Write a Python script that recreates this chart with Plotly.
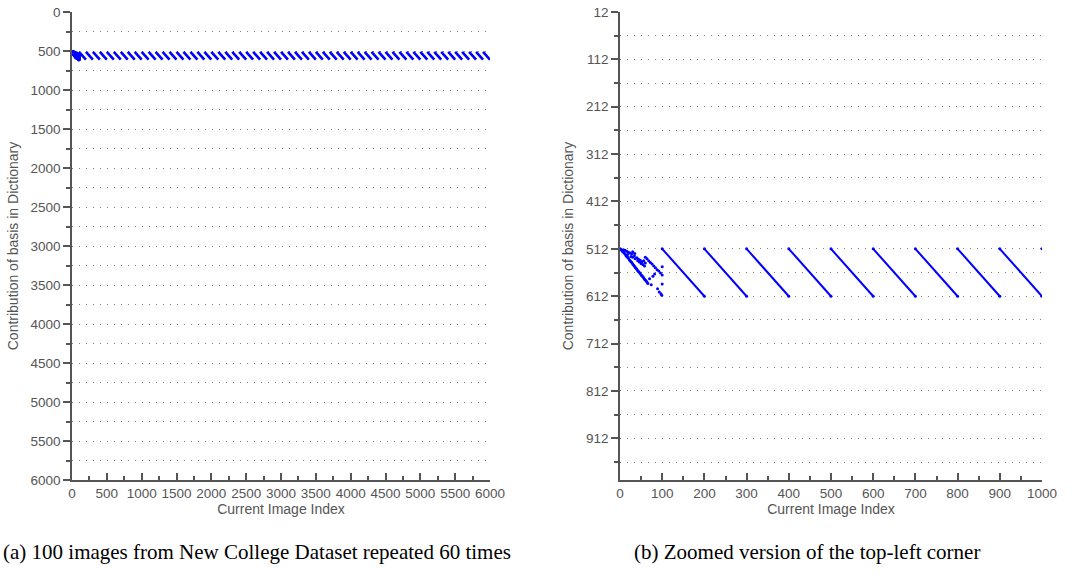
import plotly.graph_objects as go

# ---------------- data ----------------
# first pass through the 100 images (scattered contributions)
first_cycle_x = [0, 2, 4, 6, 8, 10, 12, 14, 16, 18, 20, 22, 24, 26, 28, 30, 32, 34, 36, 38, 40,
                 42, 44, 46, 48, 50, 52, 54, 56, 58, 60, 62, 64, 66,
                 8, 12, 16, 20, 24, 28, 18, 26, 30, 34, 36, 40, 42, 44, 46, 48, 50, 52, 54, 56,
                 58, 60, 35, 30,
                 60, 64, 68, 72, 76, 80, 84, 88, 92, 96, 100,
                 100, 74, 100, 89, 93, 97, 99, 70, 78, 82]
first_cycle_y = [512, 513, 515, 517, 519, 521, 523, 526, 528, 530, 532, 535, 537, 539, 541, 544,
                 546, 548, 551, 553, 555, 558, 560, 562, 564, 567, 569, 571, 573, 576, 578, 580,
                 582, 585,
                 514, 515, 517, 519, 521, 523, 524, 528, 530, 527, 533, 531, 537, 534, 540, 536,
                 543, 540, 545, 537, 548, 542, 522, 518,
                 530, 533, 537, 541, 544, 548, 552, 556, 559, 563, 567,
                 550, 588, 586, 596, 603, 607, 610, 575, 570, 565]

# start index of each later repetition (image 1 of the 100-image sequence)
repeat_starts = [100, 200, 300, 400, 500, 600, 700, 800, 900, 1000,
                 1100, 1200, 1300, 1400, 1500, 1600, 1700, 1800, 1900, 2000,
                 2100, 2200, 2300, 2400, 2500, 2600, 2700, 2800, 2900, 3000,
                 3100, 3200, 3300, 3400, 3500, 3600, 3700, 3800, 3900, 4000,
                 4100, 4200, 4300, 4400, 4500, 4600, 4700, 4800, 4900, 5000,
                 5100, 5200, 5300, 5400, 5500, 5600, 5700, 5800, 5900]
cycle_length = 100
basis_first = 512
basis_last = 612

left_x_ticks = [0, 500, 1000, 1500, 2000, 2500, 3000, 3500, 4000, 4500, 5000, 5500, 6000]
left_y_ticks = [0, 500, 1000, 1500, 2000, 2500, 3000, 3500, 4000, 4500, 5000, 5500, 6000]
right_x_ticks = [0, 100, 200, 300, 400, 500, 600, 700, 800, 900, 1000]
right_y_ticks = [12, 112, 212, 312, 412, 512, 612, 712, 812, 912]

captions = ["(a) 100 images from New College Dataset repeated 60 times",
            "(b) Zoomed version of the top-left corner"]
x_title = "Current Image Index"
y_title = "Contribution of basis in Dictionary"


def segments(x_max):
    xs, ys = [], []
    for s in repeat_starts:
        if s >= x_max:
            xs += [s, None]
            ys += [basis_first, None]
            continue
        xs += [s, s + cycle_length, None]
        ys += [basis_first, basis_last, None]
    return xs, ys


BLUE = "#0000ff"
GRAY = "#555555"
W, H = 1078, 573
fig = go.Figure()

# left panel
lx, ly = segments(6000)
fig.add_trace(go.Scatter(x=lx, y=ly, mode="lines", line=dict(color=BLUE, width=2.6),
                         xaxis="x", yaxis="y", showlegend=False))
fig.add_trace(go.Scatter(x=first_cycle_x, y=first_cycle_y, mode="markers",
                         marker=dict(color=BLUE, size=4), xaxis="x", yaxis="y", showlegend=False))

# right panel
rx, ry = segments(1000)
fig.add_trace(go.Scatter(x=rx, y=ry, mode="lines+markers", line=dict(color=BLUE, width=2),
                         marker=dict(color=BLUE, size=3),
                         xaxis="x2", yaxis="y2", showlegend=False))
fig.add_trace(go.Scatter(x=first_cycle_x, y=first_cycle_y, mode="markers",
                         marker=dict(color=BLUE, size=3), xaxis="x2", yaxis="y2", showlegend=False))

font = dict(family="Liberation Sans, Arial, sans-serif", size=13.5, color=GRAY)
title_font = dict(family="Liberation Sans, Arial, sans-serif", size=14, color=GRAY)
grid = dict(showgrid=True, gridcolor="#808080", gridwidth=1.2, griddash="1px,6px")

common_x = dict(showline=True, linecolor=GRAY, linewidth=1.5, ticks="inside", ticklen=7,
                tickwidth=1.5, tickcolor=GRAY, showgrid=False, zeroline=False, automargin=False,
                tickfont=font, title=dict(text=x_title, font=title_font, standoff=3))
common_y = dict(showline=True, linecolor=GRAY, linewidth=1.5, ticks="outside", ticklen=7,
                tickwidth=1.5, tickcolor=GRAY, zeroline=False, tickfont=font, automargin=False,
                autorange=False, title=dict(text=y_title, font=title_font, standoff=9), **grid)


def px(x):
    return x / W


def py(y):
    return 1 - y / H


x1d = [px(72), px(490)]
x2d = [px(620), px(1042)]
yd = [py(480), py(12)]
cap_font = dict(family="Liberation Serif, Times New Roman, serif", size=21, color="black")

fig.update_layout(
    width=W, height=H, margin=dict(l=0, r=0, t=0, b=0, autoexpand=False),
    paper_bgcolor="white", plot_bgcolor="white",
    xaxis=dict(domain=x1d, range=[0, 6000], tickmode="array", tickvals=left_x_ticks,
               minor=dict(dtick=250, tick0=0, ticks="inside", ticklen=4, tickcolor=GRAY),
               anchor="y", **common_x),
    yaxis=dict(domain=yd, range=[6000, 0], tickmode="array", tickvals=left_y_ticks,
               minor=dict(dtick=250, tick0=0, ticks="outside", ticklen=4, tickcolor=GRAY, **grid),
               anchor="x", **common_y),
    xaxis2=dict(domain=x2d, range=[0, 1000], tickmode="array", tickvals=right_x_ticks,
                minor=dict(dtick=50, tick0=0, ticks="inside", ticklen=4, tickcolor=GRAY),
                anchor="y2", **common_x),
    yaxis2=dict(domain=yd, range=[1000, 12], tickmode="array", tickvals=right_y_ticks,
                minor=dict(dtick=50, tick0=12, ticks="outside", ticklen=4, tickcolor=GRAY, **grid),
                anchor="x2", **common_y),
    annotations=[
        dict(text=captions[0], x=px(257), y=py(552), xref="paper", yref="paper",
             xanchor="center", yanchor="middle", showarrow=False, font=cap_font),
        dict(text=captions[1], x=px(807), y=py(552), xref="paper", yref="paper",
             xanchor="center", yanchor="middle", showarrow=False, font=cap_font),
    ],
)

fig.write_html("out.html", config={"displayModeBar": False},
               post_script="document.body.style.margin='0';")
